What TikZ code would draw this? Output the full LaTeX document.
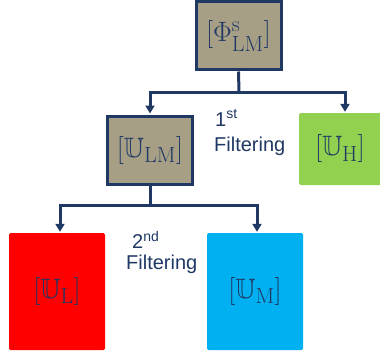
\documentclass[tikz,border=0pt]{standalone}
\usepackage{fix-cm}
\usepackage{amssymb}
\usepackage{fontspec}
\setsansfont{Liberation Sans}
\usetikzlibrary{arrows.meta}
\definecolor{navy}{HTML}{1F3864}
\definecolor{khaki}{HTML}{A69F86}
\definecolor{lgreen}{HTML}{92D050}
\definecolor{sky}{HTML}{00B0F0}
\DeclareMathSizes{28}{28}{22}{16}
\tikzset{
  box/.style={rectangle, inner sep=0pt, text=navy, font=\fontsize{28}{32}\selectfont},
  navybox/.style={box, draw=navy, line width=3pt, fill=khaki, minimum width=85pt, minimum height=68pt},
  flatbox/.style={box, rounded corners=1.5pt, minimum width=96pt, minimum height=117pt},
  conn/.style={draw=navy, line width=3pt},
  arr/.style={conn, -{Triangle[width=9pt,length=8pt]}, shorten >=1pt},
  lbl/.style={text=navy, font=\sffamily\fontsize{20}{22}\selectfont, inner sep=0pt}
}
\begin{document}
\begin{tikzpicture}[x=1pt,y=-1pt]
\useasboundingbox (0,0) rectangle (380,353);
\node[navybox] (top) at (238.5,36) {$[\Phi^{\mathrm{s}}_{\mathrm{LM}}]$};
\node[navybox] (ulm) at (150,150) {$[\mathbb{U}_{\mathrm{LM}}]$};
\node[box, fill=lgreen, rounded corners=1.5pt, minimum width=82pt, minimum height=72pt] (uh) at (340,149) {$[\mathbb{U}_{\mathrm{H}}]$};
\node[flatbox, fill=red] (ul) at (57,291.5) {$[\mathbb{U}_{\mathrm{L}}]$};
\node[flatbox, fill=sky] (um) at (255,291.5) {$[\mathbb{U}_{\mathrm{M}}]$};
\coordinate (j1) at (239,92);
\coordinate (j2) at (150,205);
\draw[conn] (top.south) -- (j1);
\draw[arr] (j1) -| (ulm.north);
\draw[arr] (j1) -| ([xshift=5pt]uh.north);
\draw[conn] (ulm.south) -- (j2);
\draw[arr] (j2) -| ([xshift=3pt]ul.north);
\draw[arr] (j2) -| ([xshift=2pt]um.north);
\node[lbl, anchor=west] (f1s) at (215,118) {1\textsuperscript{st}};
\node[lbl, anchor=west] (f1) at (214,146) {Filtering};
\node[lbl, anchor=west] (f2s) at (132,240) {2\textsuperscript{nd}};
\node[lbl, anchor=west] (f2) at (126,264) {Filtering};
\end{tikzpicture}
\end{document}
